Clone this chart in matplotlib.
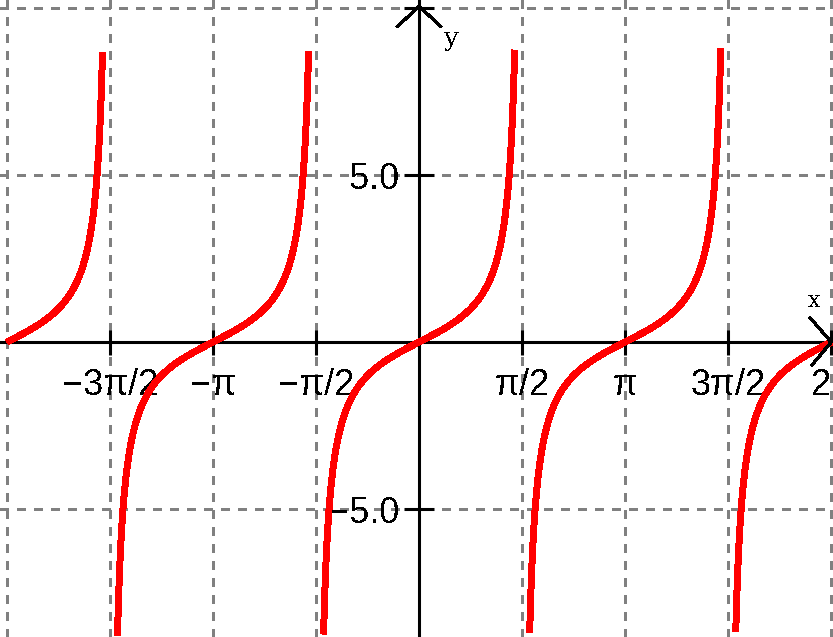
import numpy as np
import matplotlib.pyplot as plt

plt.rcParams['text.antialiased'] = False
plt.rcParams['lines.antialiased'] = False

# function domain and the y cut-off used for the branches
x_min, x_max = -2 * np.pi, 2 * np.pi
y_cut = 8.8

# ticks
x_ticks = [-1.5 * np.pi, -np.pi, -0.5 * np.pi, 0.5 * np.pi, np.pi, 1.5 * np.pi, 2 * np.pi]
x_labels = ['−3π/2', '−π', '−π/2', 'π/2', 'π', '3π/2', '2']
y_ticks = [-5.0, 5.0, 10.0]
y_labels = ['−5.0', '5.0', '']
grid_x = [k * np.pi / 2 for k in range(-4, 5)]
grid_y = [-5.0, 5.0, 10.0]

# y = tan(x), broken at the asymptotes
x = np.linspace(x_min, x_max, 6000)
y = np.tan(x)
y[np.abs(y) > y_cut] = np.nan

fig = plt.figure(figsize=(8.33, 6.37), dpi=100)
ax = fig.add_axes([0, 0, 1, 1])
ax.set_xlim(-6.39, 6.31)
ax.set_ylim(-8.83, 10.24)

for gx in grid_x:
    ax.axvline(gx, color='#808080', lw=2.1, dashes=(3, 3), zorder=1)
for gy in grid_y:
    ax.axhline(gy, color='#808080', lw=2.1, dashes=(3, 3), zorder=1)

ax.spines['left'].set_position('zero')
ax.spines['bottom'].set_position('zero')
ax.spines['top'].set_visible(False)
ax.spines['right'].set_visible(False)
for s in ('left', 'bottom'):
    ax.spines[s].set_linewidth(2.2)
    ax.spines[s].set_zorder(3)

ax.set_xticks(x_ticks)
ax.set_xticklabels(x_labels)
ax.set_yticks(y_ticks)
ax.set_yticklabels(y_labels)
ax.tick_params(axis='x', direction='inout', length=18, width=2.2, pad=10)
ax.tick_params(axis='y', direction='inout', length=22, width=2.2, pad=3)
for lab in ax.get_xticklabels() + ax.get_yticklabels():
    lab.set_fontfamily(['Liberation Sans', 'DejaVu Sans'])
    lab.set_fontsize(26)
# the last label sits on the right edge
ax.get_xticklabels()[-1].set_horizontalalignment('right')

ax.plot(x, y, color='#ff0000', lw=4.3, zorder=4, solid_capstyle='butt')

# arrow heads and axis names
ax.plot([-0.33, 0, 0.33], [9.45, 10.05, 9.45], color='black', lw=1.6, zorder=5)
ax.plot([x_max - 0.32, x_max, x_max - 0.29], [0.72, 0, -0.68], color='black', lw=1.6, zorder=5)
ax.text(0.38, 9.45, 'y', fontsize=19, va='top', family='DejaVu Serif')
ax.text(5.92, 1.05, 'x', fontsize=16, family='DejaVu Serif')

fig.savefig('out.png', dpi=100)
